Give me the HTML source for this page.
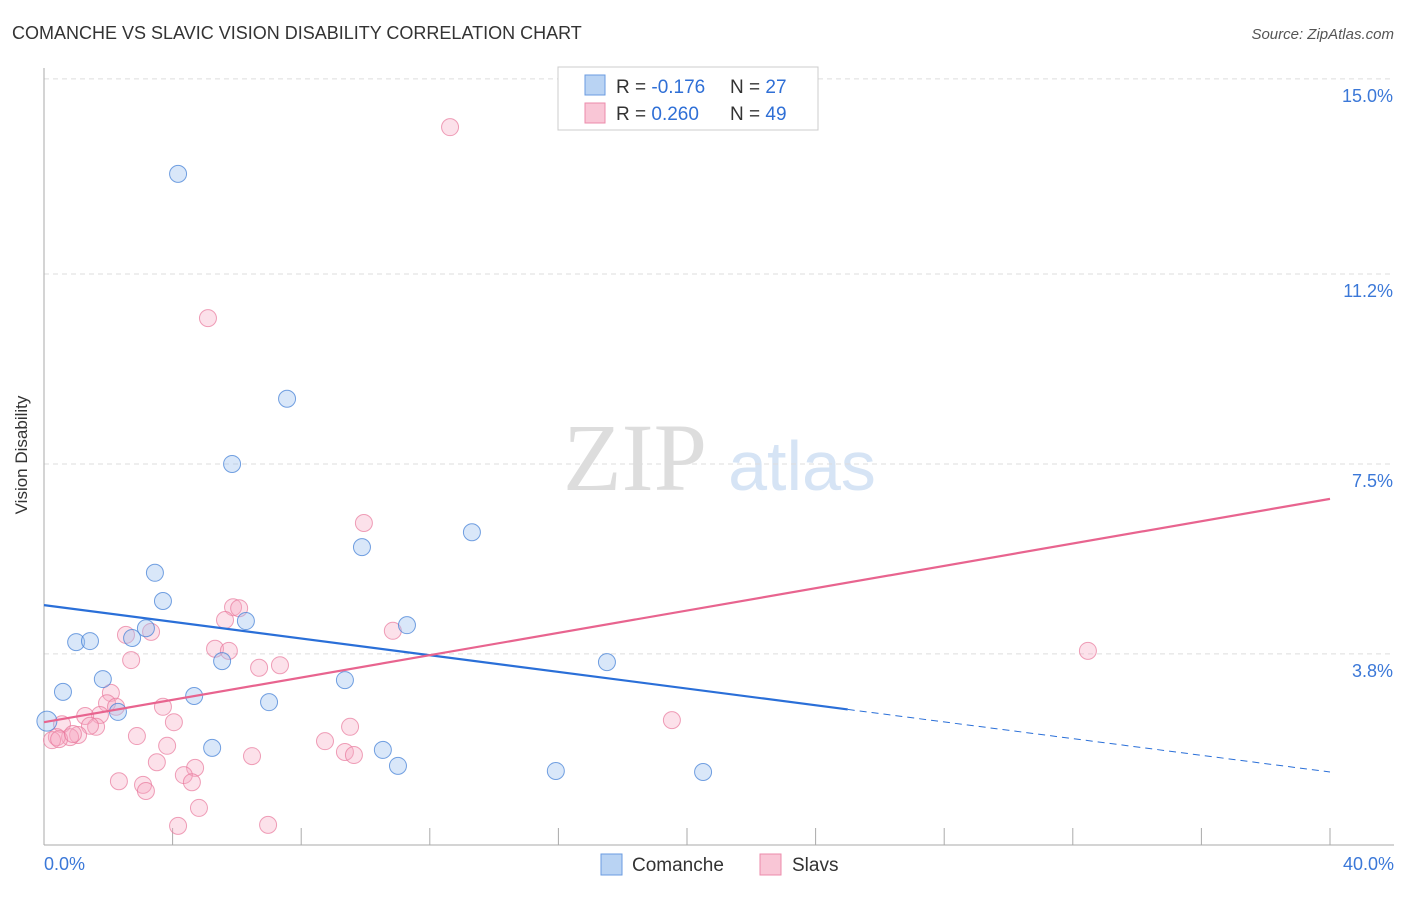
<!DOCTYPE html>
<html><head><meta charset="utf-8"><style>
body{margin:0;background:#fff;font-family:"Liberation Sans",sans-serif}
svg text{font-family:"Liberation Sans",sans-serif}
</style></head><body>
<svg id="chart" width="1406" height="892">
<text x="12" y="39" font-size="18" fill="#333">COMANCHE VS SLAVIC VISION DISABILITY CORRELATION CHART</text>
<text x="1394" y="39" font-size="15" fill="#555" font-style="italic" text-anchor="end">Source: ZipAtlas.com</text>
<text x="27" y="455" font-size="17" fill="#333" text-anchor="middle" transform="rotate(-90 27 455)">Vision Disability</text>
<text x="635" y="490" font-size="96" fill="#ddd" style="font-family:'Liberation Serif',serif" text-anchor="middle">ZIP</text>
<text x="802" y="490" font-size="70" fill="#d6e4f5" text-anchor="middle">atlas</text>
<g id="grid"></g><g id="axes"></g><g id="marks"></g><g id="lines"></g>
<g>
<rect x="558" y="67" width="260" height="63" fill="#fff" stroke="#ccc"/>
<rect x="585" y="75" width="20" height="20" fill="#b9d3f3" stroke="#6a9be0"/>
<rect x="585" y="103" width="20" height="20" fill="#f9c6d6" stroke="#ec8bab"/>
<text x="616" y="93" font-size="19" fill="#333">R = <tspan fill="#2f6fd6">-0.176</tspan></text>
<text x="730" y="93" font-size="19" fill="#333">N = <tspan fill="#2f6fd6">27</tspan></text>
<text x="616" y="120" font-size="19" fill="#333">R = <tspan fill="#2f6fd6">0.260</tspan></text>
<text x="730" y="120" font-size="19" fill="#333">N = <tspan fill="#2f6fd6">49</tspan></text>
</g>
<g>
<rect x="601" y="854" width="21" height="21" fill="#b9d3f3" stroke="#6a9be0"/>
<text x="632" y="871" font-size="19" fill="#333">Comanche</text>
<rect x="760" y="854" width="21" height="21" fill="#f9c6d6" stroke="#ec8bab"/>
<text x="792" y="871" font-size="19" fill="#333">Slavs</text>
</g>
</svg>
<script>
const yTicks=[3.8,7.5,11.2,15.0];
const yTickLabels=["3.8%","7.5%","11.2%","15.0%"];
const xTicks=[0,4,8,12,16,20,24,28,32,36,40];
const comancheX=[4.17,7.56,5.85,9.89,13.31,3.45,3.70,11.29,6.28,3.17,2.74,1.00,1.43,5.54,17.51,1.83,9.36,0.59,4.67,7.00,2.30,0.09,5.23,10.54,11.01,15.92,20.50];
const comancheY=[13.15,8.77,7.50,5.88,6.17,5.38,4.83,4.36,4.44,4.30,4.11,4.03,4.05,3.66,3.64,3.31,3.29,3.06,2.98,2.86,2.67,2.49,1.97,1.93,1.62,1.52,1.50];
const slavsX=[12.63,5.10,9.95,32.47,5.88,6.07,5.63,3.33,2.55,10.85,5.32,5.75,2.71,7.34,6.69,2.08,1.96,2.24,3.70,1.74,1.28,4.04,0.56,1.62,1.43,9.52,19.53,2.89,1.06,0.81,0.40,0.25,8.74,3.83,9.36,9.64,6.47,3.51,4.70,4.35,4.60,2.33,3.08,3.17,4.82,4.17,6.97,0.47,0.90];
const slavsY=[14.06,10.34,6.35,3.86,4.71,4.69,4.46,4.23,4.17,4.25,3.90,3.86,3.68,3.58,3.53,3.04,2.84,2.77,2.77,2.61,2.59,2.47,2.43,2.38,2.40,2.38,2.51,2.20,2.22,2.18,2.18,2.12,2.10,2.01,1.89,1.83,1.81,1.69,1.58,1.44,1.30,1.32,1.25,1.13,0.80,0.45,0.47,2.14,2.24];
const comancheTrend=[4.75,1.50];
const slavsTrend=[2.47,6.82];
const comancheSolidEnd=25;
const NS="http://www.w3.org/2000/svg";
const sx=v=>44+v/40*1286, sy=v=>849-v*51.34;
function mk(p,t,a){const e=document.createElementNS(NS,t);for(const k in a)e.setAttribute(k,a[k]);document.getElementById(p).appendChild(e);return e;}
yTicks.forEach((t,i)=>{
 const l=mk('grid','line',{x1:44,x2:1394,y1:sy(t),y2:sy(t),stroke:'#ddd','stroke-dasharray':'5,4'});
 
 
 const tx=mk('grid','text',{x:1393,y:sy(t)+23,'font-size':18,fill:'#3b78d8','text-anchor':'end'});
 tx.textContent=yTickLabels[i];
 
 
});
const ax=mk('axes','line',{x1:44,x2:44,y1:68,y2:845,stroke:'#aaa'});


const bx=mk('axes','line',{x1:44,x2:1394,y1:845,y2:845,stroke:'#aaa'});


xTicks.forEach(t=>{const l=mk('axes','line',{x1:sx(t),x2:sx(t),y1:828,y2:845,stroke:'#aaa'});
 
 });
const x0=mk('axes','text',{x:44,y:870,'font-size':18,fill:'#3b78d8'});x0.textContent='0.0%';


const x1=mk('axes','text',{x:1394,y:870,'font-size':18,fill:'#3b78d8','text-anchor':'end'});x1.textContent='40.0%';


slavsX.forEach((x,i)=>{const c=mk('marks','circle',{cx:sx(x),cy:sy(slavsY[i]),r:8.5,fill:'rgba(246,170,195,0.35)',stroke:'rgba(232,120,155,0.7)','stroke-width':1});
 
 });
comancheX.forEach((x,i)=>{const c=mk('marks','circle',{cx:sx(x),cy:sy(comancheY[i]),r:i==21?10:8.5,fill:'rgba(160,196,240,0.4)',stroke:'rgba(70,130,215,0.75)','stroke-width':1});
 
 });
const ct=x=>comancheTrend[0]+(comancheTrend[1]-comancheTrend[0])*x/40;
const l1=mk('lines','line',{x1:sx(0),y1:sy(ct(0)),x2:sx(comancheSolidEnd),y2:sy(ct(comancheSolidEnd)),stroke:'#2a6fd8','stroke-width':2.2});


const l2=mk('lines','line',{x1:sx(comancheSolidEnd),y1:sy(ct(comancheSolidEnd)),x2:sx(40),y2:sy(ct(40)),stroke:'#2a6fd8','stroke-width':1,'stroke-dasharray':'7,5'});


const l3=mk('lines','line',{x1:sx(0),y1:sy(slavsTrend[0]),x2:sx(40),y2:sy(slavsTrend[1]),stroke:'#e8648f','stroke-width':2.2});


</script>
</body></html>
